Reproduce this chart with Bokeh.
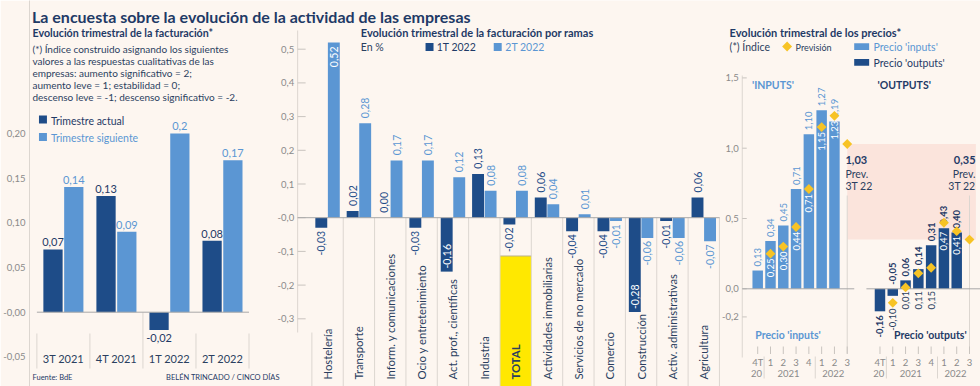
import numpy as np
from bokeh.plotting import figure
from bokeh.models import Range1d, LinearAxis, FixedTicker
from bokeh.core.properties import value
from bokeh.embed import file_html
from bokeh.resources import INLINE

# ---------------- data ----------------
quarters = ["3T 2021", "4T 2021", "1T 2022", "2T 2022"]
current_q = [0.07, 0.13, -0.02, 0.08]
next_q = [0.14, 0.09, 0.20, 0.17]
current_q_labels = ["0,07", "0,13", "-0,02", "0,08"]
next_q_labels = ["0,14", "0,09", "0,2", "0,17"]
left_ticks = [-0.05, 0.0, 0.05, 0.10, 0.15, 0.20]
left_tick_labels = ["-0,05", "-0,00", "0,05", "0,10", "0,15", "0,20"]

sectors = ["Hostelería", "Transporte", "Inform. y comunicaciones", "Ocio y entretenimiento",
           "Act. prof., científicas", "Industria", "TOTAL", "Actividades inmobiliarias",
           "Servicios de no mercado", "Comercio", "Construcción", "Activ. administrativas",
           "Agricultura"]
t1_2022 = [-0.03, 0.02, 0.00, -0.03, -0.16, 0.13, -0.02, 0.06, -0.04, -0.04, -0.28, -0.01, 0.06]
t2_2022 = [0.52, 0.28, 0.17, 0.17, 0.12, 0.08, 0.08, 0.04, 0.01, -0.01, -0.06, -0.06, -0.07]
mid_ticks = [-0.3, -0.2, -0.1, 0.0, 0.1, 0.2, 0.3, 0.4, 0.5]
mid_tick_labels = ["-0,3", "-0,2", "-0,1", "-0,0", "0,1", "0,2", "0,3", "0,4", "0,5"]

periods = ["4T", "1", "2", "3", "4", "1", "2", "3"]
years = [("20", 0, 0), ("2021", 1, 4), ("2022", 5, 7)]
inputs = [0.13, 0.34, 0.45, 0.71, 1.10, 1.27, 1.19]
inputs_fc = [None, 0.25, 0.30, 0.44, 0.71, 1.15, 1.23, 1.03]
outputs = [-0.16, -0.05, 0.06, 0.14, 0.31, 0.43, 0.40]
outputs_fc = [None, -0.10, 0.01, 0.11, 0.15, 0.47, 0.41, 0.35]
right_ticks = [-0.2, 0.0, 0.5, 1.0, 1.5]
right_tick_labels = ["-0,2", "0,0", "0,5", "1,0", "1,5"]

TITLE = "La encuesta sobre la evolución de la actividad de las empresas"

# ---------------- style ----------------
BG = "#fdf6f0"
DARK = "#1e4c88"
LIGHT = "#5b96d3"
NAVY = "#1f3a66"
TXT = "#2b3f5f"
GRAY = "#8a8a8a"
LINE = "#dcd6d0"
TICK = "#c9c4bf"
ZERO = "#a8a8a8"
GOLD = "#f7c325"
PINK = "#fbe4dc"
YELLOW = "#ffe800"
FONT = value("Lato")
DY = -3.5   # baseline correction for horizontal texts

W, H = 980, 386
BL = 26
FX0 = BL   # left frame edge in page pixels


def fmt(v):
    return f"{v:.2f}".replace(".", ",")


p = figure(width=W, height=H, output_backend="svg", toolbar_location=None, title=None,
           x_range=Range1d(FX0, W), y_range=Range1d(H, 0),
           x_axis_type=None, y_axis_type=None,
           min_border_left=BL, min_border_right=0, min_border_top=0, min_border_bottom=0,
           background_fill_color=BG, border_fill_color=BG, outline_line_color=None)

# one linear scale per panel: (x of index 0, px per index, y of zero, px per unit)
PANELS = {"L": (60.0, 53.2, 311.7, 894.0),
          "M": (325.0, 31.45, 217.2, 337.0),
          "R": (756.5, 12.83, 288.3, 140.6)}
for name, (a, k, c, m) in PANELS.items():
    p.extra_x_ranges[name] = Range1d((FX0 - a) / k, (W - a) / k)
    p.extra_y_ranges[name] = Range1d((c - H) / m, c / m)


def T(x, y, text, size, color, bold=False, align="left", baseline="alphabetic",
      angle=0.0, xr="default", yr="default"):
    y = list(y)
    if baseline == "alphabetic" and angle == 0.0 and yr == "default":
        y = [v + DY for v in y]
    p.text(x=list(x), y=y, text=list(text), angle=angle, text_font=FONT,
           text_font_size=value(f"{size}px"), text_font_style="bold" if bold else "normal",
           text_color=color if isinstance(color, str) else list(color),
           text_align=align if isinstance(align, str) else list(align),
           text_baseline=baseline, x_range_name=xr, y_range_name=yr)


def S(x0, y0, x1, y1, color, xr="default", yr="default", width=1):
    p.segment(x0=list(x0), y0=list(y0), x1=list(x1), y1=list(y1), line_color=color,
              line_width=width, x_range_name=xr, y_range_name=yr)


# ---------------- title ----------------
T([28.5], [19.5], [TITLE], 16, NAVY, bold=True)

# ---------------- left panel ----------------
axL = LinearAxis(y_range_name="L", ticker=FixedTicker(ticks=left_ticks, minor_ticks=[]),
                 major_label_overrides=dict(zip(left_ticks, left_tick_labels)),
                 axis_line_color=LINE, major_tick_line_color=None, minor_tick_line_color=None,
                 major_tick_in=0, major_tick_out=0,
                 major_label_text_font="Lato", major_label_text_font_size="9.5px",
                 major_label_text_color=GRAY, major_label_standoff=4)
p.add_layout(axL, "left")

xq = np.arange(len(quarters))
OFF, BW = 0.196, 0.363
sep_x = list(np.arange(len(quarters) + 1) - 0.5)
sep_y0 = [311.7 if (i < len(quarters) and current_q[i] < 0) else 333 for i in range(len(sep_x))]
S(sep_x, sep_y0, sep_x, [368] * len(sep_x), LINE, xr="L")
p.vbar(x=xq - OFF, top=current_q, width=BW, fill_color=DARK, line_color=None,
       x_range_name="L", y_range_name="L")
p.vbar(x=xq + OFF, top=next_q, width=BW, fill_color=LIGHT, line_color=None,
       x_range_name="L", y_range_name="L")
S([-0.5], [0], [len(quarters) - 0.5], [0], ZERO, xr="L", yr="L")

lx, ly, lt, lc, lb = [], [], [], [], []
for vals, labs, off, col in ((current_q, current_q_labels, -OFF, NAVY),
                             (next_q, next_q_labels, OFF, LIGHT)):
    for i, (v, s) in enumerate(zip(vals, labs)):
        lx.append(i + off)
        lt.append(s)
        lc.append(col)
        if v >= 0:
            ly.append(v + 0.008)
            lb.append("alphabetic")
        else:
            ly.append(v - 0.004)
            lb.append("top")
p.text(x=lx, y=ly, text=lt, text_color=lc, text_baseline=lb, text_align="center",
       text_font=FONT, text_font_size=value("11px"), x_range_name="L", y_range_name="L")
T(xq, [361] * len(quarters), quarters, 11, TXT, align="center", xr="L")

T([29], [35.5], ["Evolución trimestral de la facturación*"], 10.7, NAVY, bold=True)
note = ["(*) Índice construido asignando los siguientes",
        "valores a las respuestas cualitativas de las",
        "empresas: aumento significativo = 2;",
        "aumento leve = 1;  estabilidad = 0;",
        "descenso leve = -1; descenso significativo = -2."]
T([29] * 5, [52.3 + 11.8 * i for i in range(5)], note, 10, TXT)
p.quad(left=[35.5, 35.5], right=[43.5, 43.5], top=[115, 132.5], bottom=[123, 140.5],
       fill_color=[DARK, LIGHT], line_color=None)
T([47.5, 47.5], [123.5, 141], ["Trimestre actual", "Trimestre siguiente"], 10.5, [NAVY, LIGHT])
T([29], [380], ["Fuente: BdE"], 7.5, NAVY)
T([277], [380], ["BELÉN TRINCADO / CINCO DÍAS"], 7.5, NAVY, align="right")

# ---------------- middle panel ----------------
xs = np.arange(len(sectors))
tot = sectors.index("TOTAL")
p.quad(left=[tot - 0.5], right=[tot + 0.5], top=[255.5], bottom=[390],
       fill_color=YELLOW, line_color=None, x_range_name="M")
S([tot - 0.5], [255.5], [tot + 0.5], [255.5], "#b9b08a", xr="M")
sx = list(xs + 0.5)
S(sx, [0] * len(sx), sx, [-0.6] * len(sx), LINE, xr="M", yr="M")
S([-0.5], [-0.3407], [-0.5], [-0.6], LINE, xr="M", yr="M")
# y axis of the panel
S([295], [0.5555], [295], [-0.3407], LINE, yr="M")
S([295] * len(mid_ticks), mid_ticks, [303] * len(mid_ticks), mid_ticks, TICK, yr="M")
T([291.5] * len(mid_ticks), mid_ticks, mid_tick_labels, 9.5, GRAY, align="right",
  baseline="middle", yr="M")
MO, MW = 0.2, 0.38
p.vbar(x=xs - MO, top=t1_2022, width=MW, fill_color=DARK, line_color=None,
       x_range_name="M", y_range_name="M")
p.vbar(x=xs + MO, top=t2_2022, width=MW, fill_color=LIGHT, line_color=None,
       x_range_name="M", y_range_name="M")
S([295], [0], [718.3], [0], ZERO, yr="M")

mx, my, mt, mc, ma = [], [], [], [], []
for vals, off, col in ((t1_2022, -MO, DARK), (t2_2022, MO, LIGHT)):
    for i, v in enumerate(vals):
        mx.append(i + off)
        mt.append(fmt(v))
        if v >= 0:
            if v > 0.45:
                my.append(v - 0.012); ma.append("right"); mc.append("white")
            else:
                my.append(v + 0.015); ma.append("left"); mc.append(col)
        else:
            if v < -0.12:
                my.append(v + 0.009); ma.append("left"); mc.append("white")
            else:
                my.append(v - 0.009); ma.append("right"); mc.append(col)
p.text(x=mx, y=my, text=mt, text_color=mc, text_align=ma, text_baseline="middle",
       angle=np.pi / 2, text_font=FONT, text_font_size=value("10.5px"),
       x_range_name="M", y_range_name="M")
reg = [i for i in xs if i != tot]
T([xs[i] for i in reg], [379] * len(reg), [sectors[i] for i in reg], 11.3, TXT,
  baseline="middle", angle=np.pi / 2, xr="M")
T([tot], [379], [sectors[tot]], 11.3, TXT, bold=True, baseline="middle", angle=np.pi / 2, xr="M")

T([358.3], [35.5], ["Evolución trimestral de la facturación por ramas"], 11, NAVY, bold=True)
T([358.3], [50], ["En %"], 10.5, TXT)
p.quad(left=[423.3, 491.7], right=[431.3, 499.7], top=[42.5, 42.5], bottom=[50.5, 50.5],
       fill_color=[DARK, LIGHT], line_color=None)
T([434.5, 503.3], [50, 50], ["1T 2022", "2T 2022"], 10.5, [NAVY, LIGHT])

# ---------------- right panel ----------------
OUT0 = 9.56
n_fc = len(inputs_fc) - 1
p.quad(left=[n_fc], right=[OUT0 + n_fc + 0.5], top=[inputs_fc[-1]], bottom=[outputs_fc[-1]],
       fill_color=PINK, line_color=None, x_range_name="R", y_range_name="R")
S([741], [1.517], [741], [-0.4886], LINE, yr="R")
S([741] * len(right_ticks), right_ticks, [745.5] * len(right_ticks), right_ticks, TICK, yr="R")
T([737.5] * len(right_ticks), right_ticks, right_tick_labels, 9.5, GRAY, align="right",
  baseline="middle", yr="R")
S([n_fc, OUT0 + n_fc], [195, 195], [n_fc, OUT0 + n_fc], [353, 353], LINE, xr="R")

xi = np.arange(len(inputs))
xo = OUT0 + np.arange(len(outputs))
RW = 0.82
p.vbar(x=xi, top=inputs, width=RW, fill_color=LIGHT, line_color=None,
       x_range_name="R", y_range_name="R")
p.vbar(x=xo, top=outputs, width=RW, fill_color=DARK, line_color=None,
       x_range_name="R", y_range_name="R")
S([741, 8.5 * 12.83 + 756.5], [0, 0], [7.55 * 12.83 + 756.5, W], [0, 0], ZERO, yr="R")

T(xi, [v + 0.028 for v in inputs], [fmt(v) for v in inputs], 9.5, LIGHT,
  baseline="middle", angle=np.pi / 2, xr="R", yr="R")
fi = [(i, f) for i, f in enumerate(inputs_fc) if f is not None and i < len(inputs)]
T([i for i, f in fi], [f - 0.035 for i, f in fi], [fmt(f) for i, f in fi], 9.5, "white",
  align="right", baseline="middle", angle=np.pi / 2, xr="R", yr="R")

ox, oy, oa = [], [], []
for i, v in enumerate(outputs):
    ox.append(OUT0 + i)
    if v >= 0:
        oy.append(v + 0.028); oa.append("left")
    elif outputs_fc[i] is not None:
        oy.append(0.028); oa.append("left")
    else:
        oy.append(v - 0.028); oa.append("right")
T(ox, oy, [fmt(v) for v in outputs], 9.5, NAVY, bold=True, align=oa, baseline="middle",
  angle=np.pi / 2, xr="R", yr="R")

fx, fy, fc_, ft = [], [], [], []
for i, f in enumerate(outputs_fc):
    if f is None or i >= len(outputs):
        continue
    fx.append(OUT0 + i)
    ft.append(fmt(f))
    if outputs[i] >= 0.35:
        fy.append(outputs[i] - 0.025); fc_.append("white")
    else:
        fy.append(min(f, 0) - (0.04 if f < 0 else 0.015)); fc_.append(TXT)
T(fx, fy, ft, 9.5, fc_, align="right", baseline="middle", angle=np.pi / 2, xr="R", yr="R")

dix = [i for i, f in enumerate(inputs_fc) if f is not None]
dox = [i for i, f in enumerate(outputs_fc) if f is not None]
p.scatter(x=dix + [OUT0 + i for i in dox],
          y=[inputs_fc[i] for i in dix] + [outputs_fc[i] for i in dox],
          marker="square", angle=np.pi / 4, size=7, fill_color=GOLD, line_color=None,
          x_range_name="R", y_range_name="R")

xp = list(np.arange(len(periods)))
for base in (0.0, OUT0):
    T([base + i for i in xp], [365] * len(periods), periods, 9.5, GRAY, align="center", xr="R")
    T([base + (a + b) / 2.0 - 0.1 for _, a, b in years], [376] * len(years),
      [y for y, _, _ in years], 9.5, GRAY, align="center", xr="R")
    tx = [base + i for i in xp]
    S(tx, [346] * len(tx), tx, [353.5] * len(tx), TICK, xr="R")
    yx = [base + b + 0.5 for _, a, b in years[:-1]]
    S(yx, [356] * len(yx), yx, [378] * len(yx), LINE, xr="R")

T([728.3], [35.5], ["Evolución trimestral de los precios*"], 11, NAVY, bold=True)
T([728.3], [50], ["(*) Índice"], 10.5, TXT)
p.scatter(x=[786], y=[46], marker="square", angle=np.pi / 4, size=7, fill_color=GOLD,
          line_color=None)
T([794.5], [50], ["Previsión"], 9, TXT)
p.quad(left=[853.3, 853.3], right=[868.3, 868.3], top=[42.7, 58.5], bottom=[49.5, 65.3],
       fill_color=[LIGHT, DARK], line_color=None)
T([872.7, 872.7], [50, 65.8], ["Precio 'inputs'", "Precio 'outputs'"], 10.5, [LIGHT, NAVY])
T([750.7, 876.7], [88.3, 88.3], ["'INPUTS'", "'OUTPUTS'"], 10.5, [LIGHT, NAVY], bold=True)
T([754, 893.3], [338.3, 338.3], ["Precio 'inputs'", "Precio 'outputs'"], 10.5, [LIGHT, NAVY],
  bold=True)
T([844.5], [163], [fmt(inputs_fc[-1])], 11, NAVY, bold=True)
T([844.5, 844.5], [176.5, 188.8], ["Prev.", "3T 22"], 10.5, TXT)
T([975], [163], [fmt(outputs_fc[-1])], 11, NAVY, bold=True, align="right")
T([975, 975], [176.5, 188.8], ["Prev.", "3T 22"], 10.5, TXT, align="right")

open("out.html", "w").write(file_html(p, INLINE, title="La encuesta sobre la evolución de la actividad"))
